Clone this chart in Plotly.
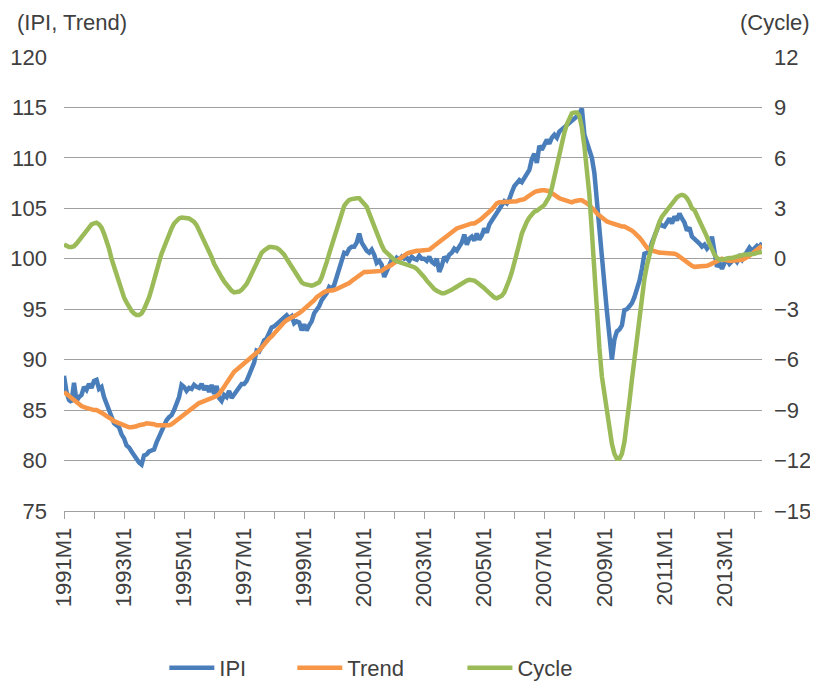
import plotly.graph_objects as go

years = list(range(1991, 2015))
n_months = 280
months = [f"{1991 + k // 12}M{k % 12 + 1}" for k in range(n_months)]

ipi = [
    88.4, 86.8, 86.0, 85.8, 87.7, 85.9, 86.3, 86.5, 87.3, 87.0, 87.6, 87.2,
    87.9, 88.0, 87.1, 87.3, 86.3, 85.6, 85.0, 84.2, 83.7, 83.5, 83.3, 82.6,
    82.2, 81.5, 81.3, 80.9, 80.5, 80.2, 79.8, 79.6, 80.5, 80.6, 80.9, 81.0,
    81.1, 81.8, 82.4, 83.0, 83.5, 84.0, 84.3, 84.5, 85.0, 85.6, 86.3, 87.5,
    87.3, 86.9, 87.2, 87.1, 87.5, 87.3, 87.2, 87.6, 87.0, 87.4, 86.8, 87.5,
    86.6, 87.4, 86.2, 85.9, 86.5, 86.3, 86.9, 86.2, 86.6, 87.0, 87.2, 87.6,
    87.6, 87.9, 88.5, 89.0, 89.7, 90.9, 90.8, 91.3, 91.9, 92.1, 92.6, 93.2,
    93.3, 93.5, 93.8, 94.0, 94.2, 94.4, 94.1, 94.3, 93.6, 93.8, 93.7, 92.9,
    93.5, 92.9, 93.4, 93.8, 94.6, 94.9, 95.3, 95.9, 96.2, 96.6, 97.2, 97.0,
    97.4, 98.2, 99.2, 100.0, 100.6, 100.5, 101.0, 101.2, 101.2, 101.6, 102.5, 101.6,
    101.1, 100.8, 100.6, 100.9, 100.4, 99.6, 99.8, 99.4, 98.2, 98.8, 99.4, 99.9,
    99.7, 100.1, 99.9, 100.2, 100.0, 100.1, 99.8, 100.2, 100.0, 99.9, 100.3, 100.0,
    100.0, 99.8, 100.2, 99.7, 99.5, 100.0, 98.7, 99.3, 100.2, 99.9, 100.4, 100.6,
    101.0, 100.8, 101.2, 101.6, 102.4, 101.4, 102.0, 102.2, 101.8, 102.5, 101.9, 102.3,
    103.0, 102.6, 103.4, 103.8, 104.0, 104.6, 104.9, 105.3, 105.7, 105.5, 105.9, 106.6,
    107.2, 107.5, 107.8, 107.6, 108.0, 108.3, 108.8, 109.9, 110.4, 109.5, 111.2, 110.8,
    111.2, 111.8, 111.4, 112.0, 112.3, 112.0, 112.6, 112.8, 113.0, 113.3, 113.5, 113.7,
    113.9, 114.1, 114.4, 114.9, 112.3, 111.6, 110.8, 110.0, 108.5, 106.0, 103.0, 100.0,
    97.5, 94.8, 92.5, 90.0, 92.0, 92.8, 93.0, 93.4, 94.9, 95.0, 95.3, 95.6,
    96.2, 97.0, 97.8, 99.0, 100.5, 100.6, 100.8, 101.6, 102.3, 103.0, 103.5, 103.3,
    103.2, 103.6, 104.0, 103.5, 104.2, 103.8, 104.5, 104.0, 103.6, 102.8, 103.1, 102.2,
    102.0, 101.8, 101.5, 101.2, 101.4, 101.0, 101.3, 102.2, 100.5, 99.2, 99.6, 99.0,
    99.6, 99.9, 99.5, 99.8, 100.0, 99.7, 100.2, 99.9, 100.3, 100.9, 101.1, 100.8,
    101.0, 101.3, 101.1, 101.6,
]

trend = [
    86.8, 86.6, 86.3, 86.1, 85.9, 85.7, 85.5, 85.4, 85.3, 85.2, 85.1, 85.1,
    85.0, 85.0, 84.9, 84.8, 84.6, 84.4, 84.3, 84.1, 83.9, 83.8, 83.6, 83.5,
    83.4, 83.3, 83.3, 83.3, 83.3, 83.4, 83.5, 83.5, 83.6, 83.7, 83.7, 83.7,
    83.6, 83.5, 83.5, 83.4, 83.4, 83.4, 83.5, 83.6, 83.8, 84.0, 84.2, 84.4,
    84.5, 84.7, 84.9, 85.1, 85.3, 85.5, 85.7, 85.8, 85.9, 86.0, 86.1, 86.1,
    86.2, 86.4, 86.6, 86.9, 87.3, 87.7, 88.1, 88.5, 88.8, 89.0, 89.2, 89.4,
    89.6, 89.8, 90.0, 90.2, 90.4, 90.6, 90.9, 91.2, 91.5, 91.9, 92.1, 92.3,
    92.6, 92.9, 93.2, 93.5, 93.7, 93.9, 94.1, 94.2, 94.3, 94.4, 94.6, 94.8,
    95.0, 95.2, 95.4, 95.6, 95.9, 96.2, 96.4, 96.6, 96.7, 96.8, 96.8, 96.9,
    96.9, 97.0, 97.1, 97.2, 97.3, 97.4, 97.6, 97.8, 98.0, 98.2, 98.4, 98.6,
    98.7, 98.7, 98.7, 98.7, 98.7, 98.7, 98.8, 98.8, 99.0, 99.1, 99.2, 99.4,
    99.6, 99.8, 100.0, 100.2, 100.4, 100.5, 100.6, 100.7, 100.7, 100.8, 100.8, 100.8,
    100.8, 100.8, 100.9, 101.1, 101.3, 101.5, 101.7, 101.9, 102.1, 102.3, 102.5, 102.7,
    102.9, 103.0, 103.1, 103.2, 103.3, 103.4, 103.4, 103.5, 103.5, 103.6, 103.8, 104.0,
    104.2, 104.4, 104.6, 104.9, 105.2, 105.5, 105.6, 105.6, 105.6, 105.6, 105.6, 105.6,
    105.7, 105.7, 105.8, 105.8, 105.9, 106.1, 106.3, 106.5, 106.6, 106.7, 106.8, 106.8,
    106.8, 106.8, 106.7, 106.5, 106.3, 106.1, 106.0, 105.9, 105.8, 105.7, 105.6, 105.6,
    105.7, 105.8, 105.8, 105.8, 105.7, 105.5, 105.3, 105.1, 104.8, 104.5, 104.3, 104.0,
    103.9, 103.7, 103.6, 103.5, 103.4, 103.3, 103.3, 103.2, 103.2, 103.1, 103.0, 102.8,
    102.6, 102.4, 102.1, 101.8, 101.4, 101.1, 100.9, 100.8, 100.7, 100.6, 100.6, 100.6,
    100.6, 100.6, 100.6, 100.6, 100.5, 100.4, 100.2, 100.0, 99.8, 99.6, 99.4, 99.3,
    99.2, 99.2, 99.2, 99.2, 99.2, 99.3, 99.4, 99.5, 99.7, 99.8, 99.9, 100.0,
    99.9, 99.8, 99.8, 99.8, 99.8, 99.8, 99.8, 99.9, 100.0, 100.1, 100.3, 100.5,
    100.7, 100.9, 101.1, 101.3,
]

cycle = [
    0.85, 0.75, 0.7, 0.7, 0.75, 0.9, 1.1, 1.3, 1.5, 1.7, 1.9, 2.05,
    2.1, 2.15, 2.05, 1.85, 1.5, 1.1, 0.6, 0.0, -0.5, -1.0, -1.5, -1.9,
    -2.3, -2.6, -2.9, -3.1, -3.25, -3.35, -3.35, -3.25, -3.0, -2.7, -2.3, -1.8,
    -1.2, -0.7, -0.2, 0.3, 0.7, 1.1, 1.5, 1.8, 2.1, 2.3, 2.4, 2.45,
    2.45, 2.45, 2.4, 2.3, 2.2, 2.0, 1.7, 1.35, 1.0, 0.7, 0.4, 0.1,
    -0.3, -0.6, -0.9, -1.1, -1.35, -1.55, -1.75, -1.9, -2.0, -2.0, -1.95, -1.85,
    -1.7, -1.5, -1.2, -0.9, -0.55, -0.2, 0.1, 0.35, 0.5, 0.6, 0.7, 0.7,
    0.7, 0.65, 0.55, 0.4, 0.25, 0.0, -0.25, -0.5, -0.75, -1.0, -1.2, -1.4,
    -1.5, -1.55, -1.6, -1.6, -1.55, -1.5, -1.4, -1.1, -0.7, -0.2, 0.3, 0.8,
    1.3, 1.8, 2.3, 2.75, 3.15, 3.35, 3.5, 3.55, 3.6, 3.6, 3.6, 3.45,
    3.3, 3.1, 2.7, 2.3, 1.9, 1.5, 1.1, 0.8, 0.5, 0.35, 0.2, 0.05,
    -0.05, -0.15, -0.2, -0.25, -0.3, -0.3, -0.35, -0.4, -0.5, -0.6, -0.75, -0.9,
    -1.1, -1.3, -1.5, -1.65, -1.8, -1.9, -2.0, -2.05, -2.05, -2.0, -1.95, -1.85,
    -1.75, -1.65, -1.55, -1.45, -1.4, -1.3, -1.25, -1.25, -1.3, -1.4, -1.5, -1.6,
    -1.75, -1.9, -2.05, -2.2, -2.3, -2.35, -2.3, -2.2, -2.0, -1.7, -1.25, -0.8,
    -0.3, 0.3, 0.9, 1.5, 1.9, 2.2, 2.45, 2.65, 2.8, 2.85, 2.95, 3.05,
    3.2, 3.45, 3.7, 4.2, 4.9, 5.5, 6.1, 6.8, 7.5, 8.0, 8.4, 8.65,
    8.7, 8.7, 8.5, 7.8, 6.7, 5.3, 3.8, 1.6, -1.0, -3.2, -5.3, -7.0,
    -8.0, -9.4, -10.4, -11.0, -11.6, -11.9, -11.9, -11.6, -10.9, -9.9, -8.5, -7.2,
    -6.0, -4.6, -3.3, -2.2, -1.2, -0.4, 0.3, 0.8, 1.3, 1.8, 2.2, 2.5,
    2.7, 2.9, 3.1, 3.3, 3.5, 3.65, 3.75, 3.8, 3.75, 3.6, 3.35, 3.0,
    2.9, 2.6, 2.3, 2.0, 1.7, 1.3, 0.9, 0.55, 0.25, 0.05, -0.05, -0.05,
    0.0, 0.0, 0.05, 0.05, 0.1, 0.15, 0.2, 0.2, 0.25, 0.25, 0.25, 0.3,
    0.3, 0.35, 0.35, 0.4,
]

tick_vals = [f"{y}M1" for y in years]
tick_text = [f"{y}M1" if (y - 1991) % 2 == 0 else "" for y in years]

FONT = "Liberation Sans, Arial, sans-serif"
TXT = "#404040"
FS = 22

fig = go.Figure()
fig.add_trace(go.Scatter(x=months, y=ipi, name="IPI", mode="lines", legend="legend",
                         line=dict(color="#4A7EBB", width=4.5)))
fig.add_trace(go.Scatter(x=months, y=trend, name="Trend", mode="lines", legend="legend2",
                         line=dict(color="#F79646", width=4.5)))
fig.add_trace(go.Scatter(x=months, y=cycle, name="Cycle", mode="lines", legend="legend3",
                         line=dict(color="#9BBB59", width=4.5), yaxis="y2"))


def leg(xpos):
    return dict(orientation="h", xref="container", yref="container",
                x=xpos, xanchor="left", y=0.021, yanchor="middle",
                font=dict(size=FS, color=TXT), itemwidth=45,
                bgcolor="rgba(0,0,0,0)")


# page body has an 8px margin, so the figure is 810x674 placed at (8, 8)
fig.update_layout(
    width=810, height=674,
    margin=dict(l=56, r=56, t=49, b=171, autoexpand=False),
    paper_bgcolor="white", plot_bgcolor="white",
    font=dict(family=FONT, size=FS, color=TXT),
    showlegend=True,
    legend=leg(0.193),
    legend2=leg(0.351),
    legend3=leg(0.561),
    xaxis=dict(type="category", categoryorder="array", categoryarray=months,
               range=[0, n_months - 1], tickmode="array", tickvals=tick_vals,
               ticktext=tick_text, tickangle=-90, ticks="outside", ticklen=7,
               tickcolor="#A0A0A0", showline=True, linecolor="#A0A0A0", linewidth=1,
               showgrid=False, zeroline=False, automargin=False,
               tickfont=dict(size=FS, color=TXT)),
    yaxis=dict(range=[75, 120], dtick=5, tick0=75, showgrid=True, gridcolor="#A0A0A0",
               gridwidth=1, zeroline=False, showline=False, ticks="", automargin=False,
               tickfont=dict(size=FS, color=TXT), ticklabelstandoff=16),
    yaxis2=dict(range=[-15, 12], dtick=3, tick0=-15, overlaying="y", side="right",
                showgrid=False, zeroline=False, showline=False, ticks="", automargin=False,
                tickfont=dict(size=FS, color=TXT), ticklabelstandoff=11),
    annotations=[
        dict(text="(IPI, Trend)", xref="paper", yref="paper", x=-0.0702, y=1.077,
             xanchor="left", yanchor="middle", showarrow=False,
             font=dict(size=FS, color=TXT)),
        dict(text="(Cycle)", xref="paper", yref="paper", x=1.0716, y=1.077,
             xanchor="right", yanchor="middle", showarrow=False,
             font=dict(size=FS, color=TXT)),
    ],
)

fig.write_html("out.html")
